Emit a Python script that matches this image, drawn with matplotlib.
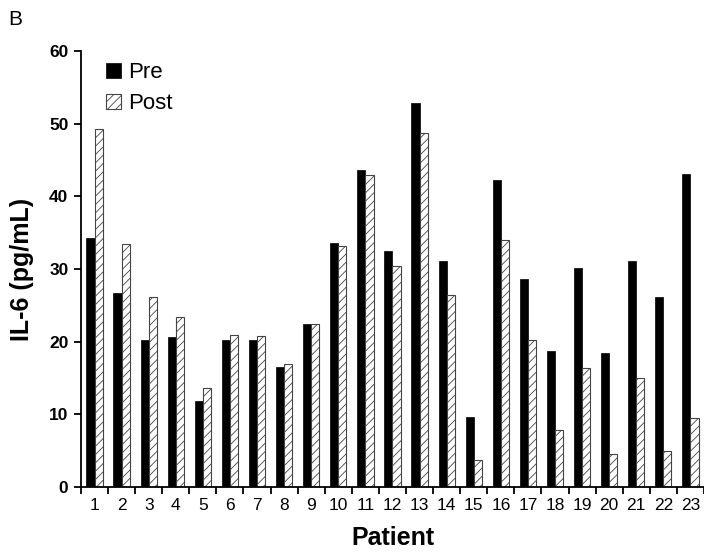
import numpy as np
import matplotlib.pyplot as plt

plt.rcParams['font.family'] = ['Liberation Sans', 'DejaVu Sans']
plt.rcParams['hatch.color'] = '#444444'
plt.rcParams['hatch.linewidth'] = 0.6

patients = [str(i) for i in range(1, 24)]
pre = [34.2, 26.7, 20.3, 20.7, 11.8, 20.2, 20.3, 16.5, 22.5, 33.6, 43.6, 32.5,
       52.8, 31.1, 9.7, 42.2, 28.6, 18.7, 30.1, 18.4, 31.1, 26.1, 43.1]
post = [49.3, 33.4, 26.2, 23.4, 13.6, 20.9, 20.8, 16.9, 22.5, 33.1, 42.9, 30.4,
        48.7, 26.4, 3.8, 34.0, 20.3, 7.9, 16.4, 4.6, 15.0, 5.0, 9.5]

fig = plt.figure(figsize=(7.04, 5.53), dpi=100)
ax = fig.add_axes([0.115, 0.119, 0.885, 0.789])

x = np.arange(len(patients))
w = 0.3
ax.bar(x - w / 2, pre, w, color='black', edgecolor='black', linewidth=0.5, label='Pre')
ax.bar(x + w / 2, post, w, color='white', edgecolor='#444444', linewidth=0.8,
       hatch='////', label='Post')

ax.set_xlim(-0.5, len(patients) - 0.5)
ax.set_ylim(0, 60)
ax.set_yticks(range(0, 61, 10))
ax.set_yticklabels([str(v) for v in range(0, 61, 10)], fontweight='bold', fontsize=12.5)
ax.set_xticks(x)
ax.set_xticklabels(patients, fontsize=12.5)
ax.set_xticks(np.arange(-0.5, len(patients)), minor=True)
ax.tick_params(axis='x', which='major', length=0, pad=8)
ax.tick_params(axis='x', which='minor', length=5, width=1.3, direction='out')
ax.tick_params(axis='y', length=5, width=1.3, direction='out', pad=4)

for s in ['top', 'right']:
    ax.spines[s].set_visible(False)
for s in ['left', 'bottom']:
    ax.spines[s].set_linewidth(1.3)

ax.set_xlabel('Patient', fontsize=18, fontweight='bold', labelpad=9)
ax.set_ylabel('IL-6 (pg/mL)', fontsize=18, fontweight='bold', labelpad=11)

ax.legend(loc='upper left', bbox_to_anchor=(0.008, 1.02), frameon=False, fontsize=16,
          handlelength=0.7, handleheight=0.7, handletextpad=0.3, labelspacing=0.45)

fig.text(0.012, 0.965, 'B', fontsize=15, va='center')

fig.savefig('out.png', dpi=100)
